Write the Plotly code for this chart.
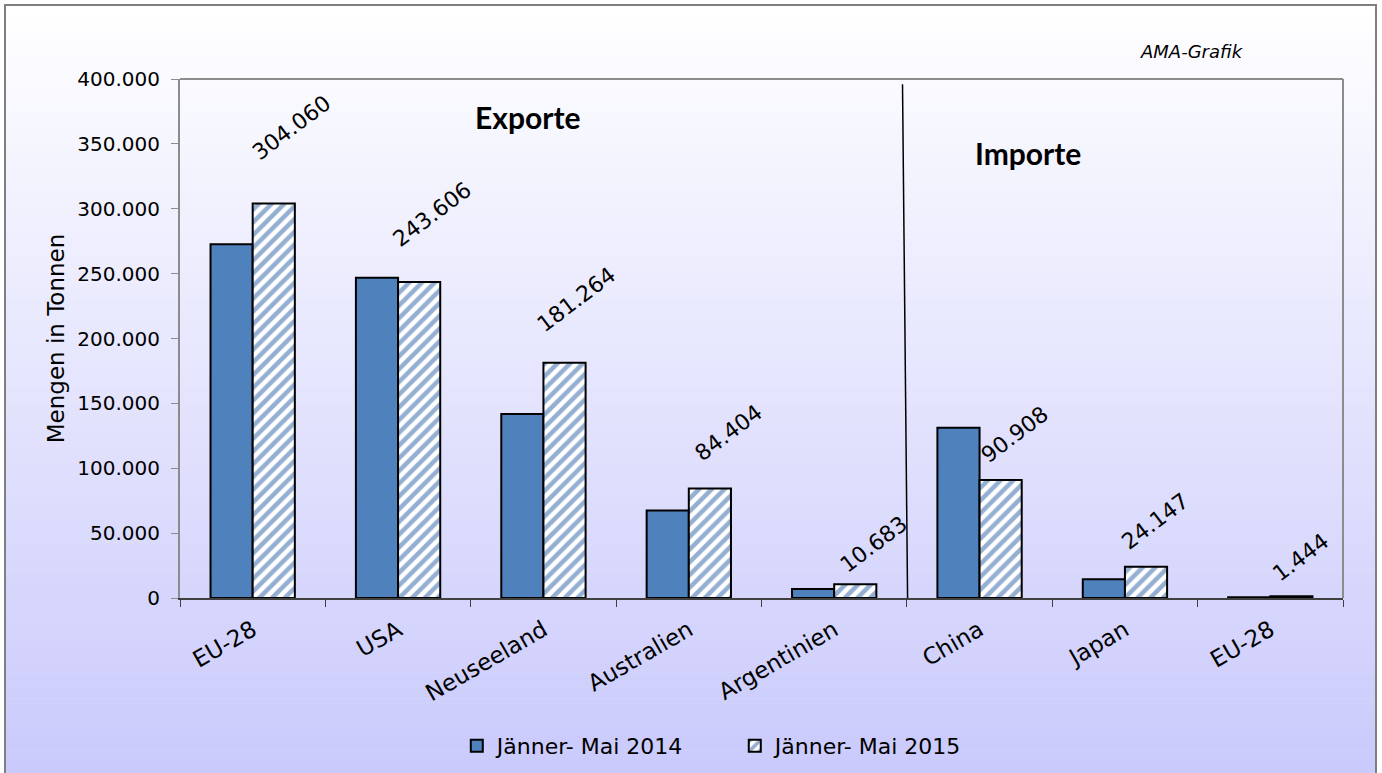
import plotly.graph_objects as go

categories = ["EU-28", "USA", "Neuseeland", "Australien", "Argentinien", "China", "Japan", "EU-28"]
series_2014 = [272600, 246900, 141900, 67500, 6900, 131300, 14400, 500]
series_2015 = [304060, 243606, 181264, 84404, 10683, 90908, 24147, 1444]
name_2014 = "Jänner- Mai 2014"
name_2015 = "Jänner- Mai 2015"
y_ticks = [0, 50000, 100000, 150000, 200000, 250000, 300000, 350000, 400000]
y_tick_labels = ["0", "50.000", "100.000", "150.000", "200.000", "250.000", "300.000", "350.000", "400.000"]

# label placement offsets (pixels) for the 2015 value labels
label_dx = [18, 13, 12, 19, 18, 14, 9, 9]
label_dy = [76, 67, 63, 56, 40, 46, 45, 39]

def de_fmt(v):
    return f"{v:,}".replace(",", ".")

x_pos = list(range(len(categories)))
BLUE = "#4f81bd"
FONT = "DejaVu Sans"

fig = go.Figure()
fig.add_trace(go.Bar(
    x=x_pos, y=series_2014, name=name_2014,
    marker=dict(color=BLUE, line=dict(color="black", width=2)),
))
fig.add_trace(go.Bar(
    x=x_pos, y=series_2015, name=name_2015,
    marker=dict(color="white", line=dict(color="black", width=2),
                pattern=dict(shape="/", fgcolor="#2a5fa5", bgcolor="white", size=9, solidity=0.5)),
))

W, H = 1382, 773
ml, mr, mt, mb = 180, 39, 79, 175
pw, ph = W - ml - mr, H - mt - mb
def px_to_paper_x(px):
    return (px - ml) / pw
def px_to_paper_y(py):
    return (H - mb - py) / ph

shapes = []
n = 90
top_px, bot_px = 5, 785
for i in range(n):
    y0p = top_px + (bot_px - top_px) * i / n
    y1p = top_px + (bot_px - top_px) * (i + 1) / n
    t = (i + 0.5) / n
    r = int(round(255 - (255 - 201) * t))
    g = int(round(255 - (255 - 201) * t))
    b = int(round(255 - (255 - 252) * t))
    shapes.append(dict(type="rect", xref="paper", yref="paper", layer="below",
                       x0=px_to_paper_x(5), x1=px_to_paper_x(1376),
                       y0=px_to_paper_y(y1p + 0.5), y1=px_to_paper_y(y0p),
                       fillcolor=f"rgb({r},{g},{b})", line=dict(width=0)))
shapes.append(dict(type="rect", xref="paper", yref="paper", layer="above",
                   x0=px_to_paper_x(5), x1=px_to_paper_x(1376),
                   y0=px_to_paper_y(790), y1=px_to_paper_y(5),
                   line=dict(color="#7f7f7f", width=2)))
shapes.append(dict(type="line", xref="paper", yref="paper", x0=0, x1=1, y0=1, y1=1,
                   line=dict(color="#8c8c8c", width=2)))
shapes.append(dict(type="line", xref="paper", yref="paper", x0=1, x1=1, y0=0, y1=1,
                   line=dict(color="#8c8c8c", width=2)))
shapes.append(dict(type="line", xref="x", yref="y", x0=4.47, y0=396000, x1=4.505, y1=-1500,
                   line=dict(color="black", width=1.5)))

annotations = []
for i, v in enumerate(series_2015):
    annotations.append(dict(
        x=i + 0.145, y=v, xref="x", yref="y", text=de_fmt(v), showarrow=False,
        textangle=-37, xanchor="center", yanchor="middle",
        xshift=label_dx[i], yshift=label_dy[i],
        font=dict(family=FONT, size=22, color="black")))
annotations.append(dict(x=px_to_paper_x(527), y=px_to_paper_y(117), xref="paper", yref="paper",
                        text="<b>Exporte</b>", showarrow=False, xanchor="center", yanchor="middle",
                        font=dict(family="Lato", size=30, color="black")))
annotations.append(dict(x=px_to_paper_x(1028), y=px_to_paper_y(153), xref="paper", yref="paper",
                        text="<b>Importe</b>", showarrow=False, xanchor="center", yanchor="middle",
                        font=dict(family="Lato", size=30, color="black")))
annotations.append(dict(x=px_to_paper_x(1192), y=px_to_paper_y(52), xref="paper", yref="paper",
                        text="<i>AMA-Grafik</i>", showarrow=False, xanchor="center", yanchor="middle",
                        font=dict(family=FONT, size=18, color="black")))

fig.update_layout(
    width=W, height=H,
    margin=dict(l=ml, r=mr, t=mt, b=mb, pad=0, autoexpand=False),
    paper_bgcolor="white", plot_bgcolor="rgba(0,0,0,0)",
    barmode="group", bargap=0.42, bargroupgap=0,
    font=dict(family=FONT, size=20, color="black"),
    shapes=shapes, annotations=annotations,
    showlegend=True,
    legend=dict(orientation="h", x=0.238, xanchor="left", y=-0.285, yanchor="middle",
                font=dict(family=FONT, size=22, color="black"),
                bgcolor="rgba(0,0,0,0)", entrywidth=233, entrywidthmode="pixels",
                itemsizing="constant"),
    xaxis=dict(range=[-0.5, 7.5], tickmode="array", tickvals=x_pos, ticktext=categories,
               tickangle=-30, ticks="", showgrid=False, zeroline=False, automargin=False,
               showline=True, linecolor="#404040", linewidth=1.5, ticklabelstandoff=8,
               tickfont=dict(family=FONT, size=23, color="black"),
               minor=dict(tickvals=[k - 0.5 for k in range(len(categories) + 1)],
                          ticks="outside", ticklen=7, tickcolor="#404040", tickwidth=1, showgrid=False)),
    yaxis=dict(range=[0, 400000], tickmode="array", tickvals=y_ticks, ticktext=y_tick_labels,
               ticks="outside", ticklen=7, tickcolor="#8c8c8c", showgrid=False, zeroline=False,
               showline=True, linecolor="#8c8c8c", linewidth=2, automargin=False,
               ticklabelstandoff=7,
               title=dict(text="Mengen in Tonnen", font=dict(family=FONT, size=23), standoff=6),
               tickfont=dict(family=FONT, size=20, color="black")),
)

fig.write_html("out.html", config={"displayModeBar": False},
               post_script="document.body.style.margin='0';document.body.style.overflow='hidden';")
